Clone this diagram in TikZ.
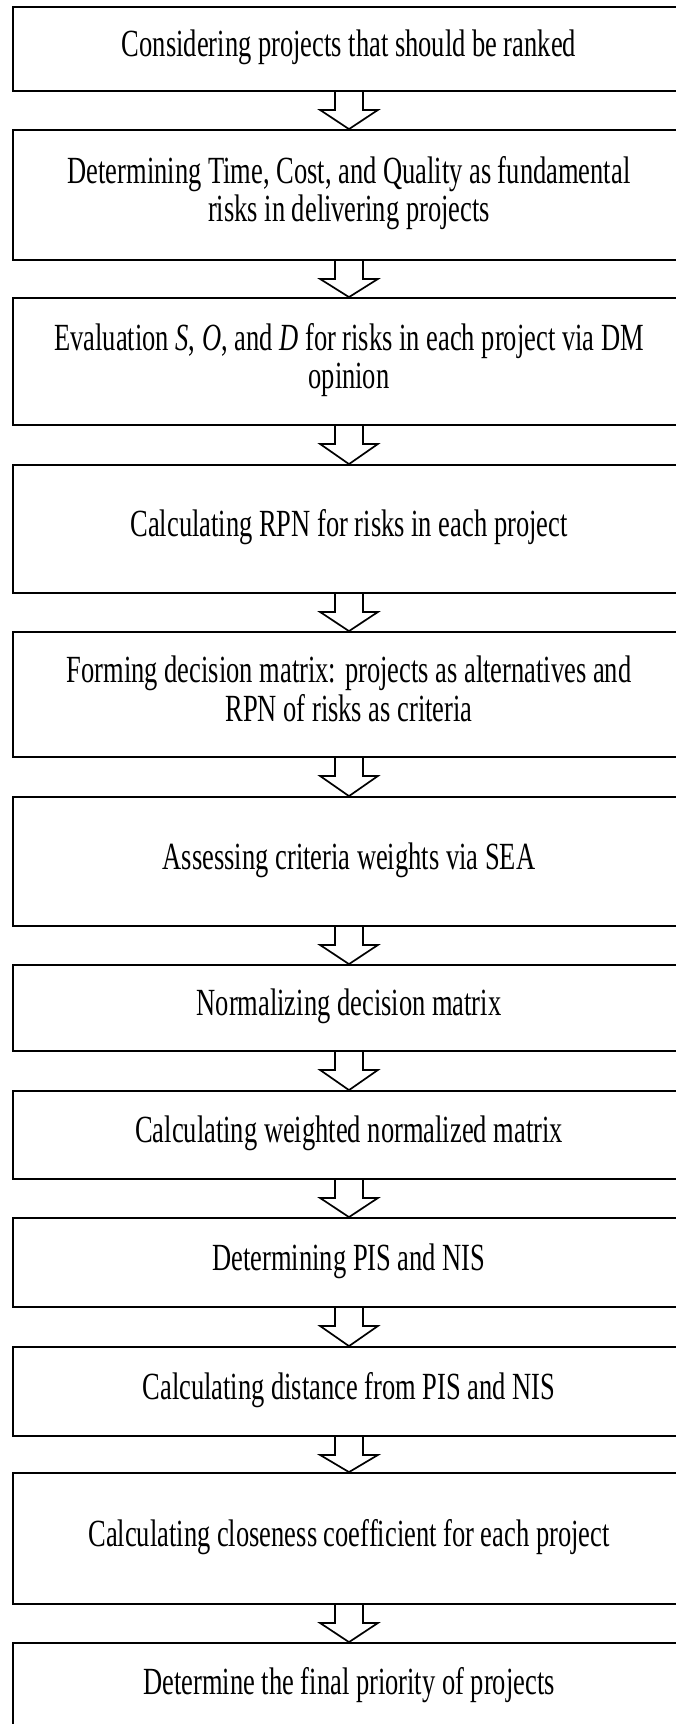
\documentclass[tikz,border=0pt]{standalone}
\usepackage{fontspec}
\usepackage{graphicx}
\setmainfont{Liberation Serif}
\usetikzlibrary{calc}
\newcommand\stretchtext[1]{\scalebox{1}[1.45]{\fontsize{26.5}{26.2}\selectfont\begin{tabular}{@{}c@{}}#1\end{tabular}}}
\tikzset{
  stepbox/.style={draw=black, line width=1.8pt, minimum width=672pt, inner sep=0pt,
    align=center, anchor=center},
  blockarr/.style={draw=black, line width=1.7pt, line join=miter}
}
\newcommand\hollowarrow[2]{%
  \draw[blockarr] ($(#1.south)+(-14,0)$) -- ($(#1.south)+(-14,18)$) -- ($(#1.south)+(-29,18)$)
    -- (#2.north) -- ($(#1.south)+(29,18)$) -- ($(#1.south)+(14,18)$) -- ($(#1.south)+(14,0)$);}
\begin{document}
\begin{tikzpicture}[x=1pt,y=-1pt]
\useasboundingbox (0,0) rectangle (675,1724);
\node[stepbox, minimum height=84pt]  (b1)  at (349,49)     {\stretchtext{Considering projects that should be ranked}};
\node[stepbox, minimum height=130pt] (b2)  at (349,195)    {\stretchtext{Determining Time, Cost, and Quality as fundamental\\risks in delivering projects}};
\node[stepbox, minimum height=127pt] (b3)  at (349,361.5)  {\stretchtext{Evaluation \textit{S}, \textit{O}, and \textit{D} for risks in each project via DM\\opinion}};
\node[stepbox, minimum height=128pt] (b4)  at (349,529)    {\stretchtext{Calculating RPN for risks in each project}};
\node[stepbox, minimum height=125pt] (b5)  at (349,694.5)  {\stretchtext{Forming decision matrix: projects as alternatives and\\RPN of risks as criteria}};
\node[stepbox, minimum height=129pt] (b6)  at (349,861.5)  {\stretchtext{Assessing criteria weights via SEA}};
\node[stepbox, minimum height=86pt]  (b7)  at (349,1008)   {\stretchtext{Normalizing decision matrix}};
\node[stepbox, minimum height=88pt]  (b8)  at (349,1135)   {\stretchtext{Calculating weighted normalized matrix}};
\node[stepbox, minimum height=89pt]  (b9)  at (349,1262.5) {\stretchtext{Determining PIS and NIS}};
\node[stepbox, minimum height=89pt]  (b10) at (349,1391.5) {\stretchtext{Calculating distance from PIS and NIS}};
\node[stepbox, minimum height=131pt] (b11) at (349,1538.5) {\stretchtext{Calculating closeness coefficient for each project}};
\node[stepbox, minimum height=88pt]  (b12) at (349,1687)   {\stretchtext{Determine the final priority of projects}};
\hollowarrow{b1}{b2}
\hollowarrow{b2}{b3}
\hollowarrow{b3}{b4}
\hollowarrow{b4}{b5}
\hollowarrow{b5}{b6}
\hollowarrow{b6}{b7}
\hollowarrow{b7}{b8}
\hollowarrow{b8}{b9}
\hollowarrow{b9}{b10}
\hollowarrow{b10}{b11}
\hollowarrow{b11}{b12}
\end{tikzpicture}
\end{document}
